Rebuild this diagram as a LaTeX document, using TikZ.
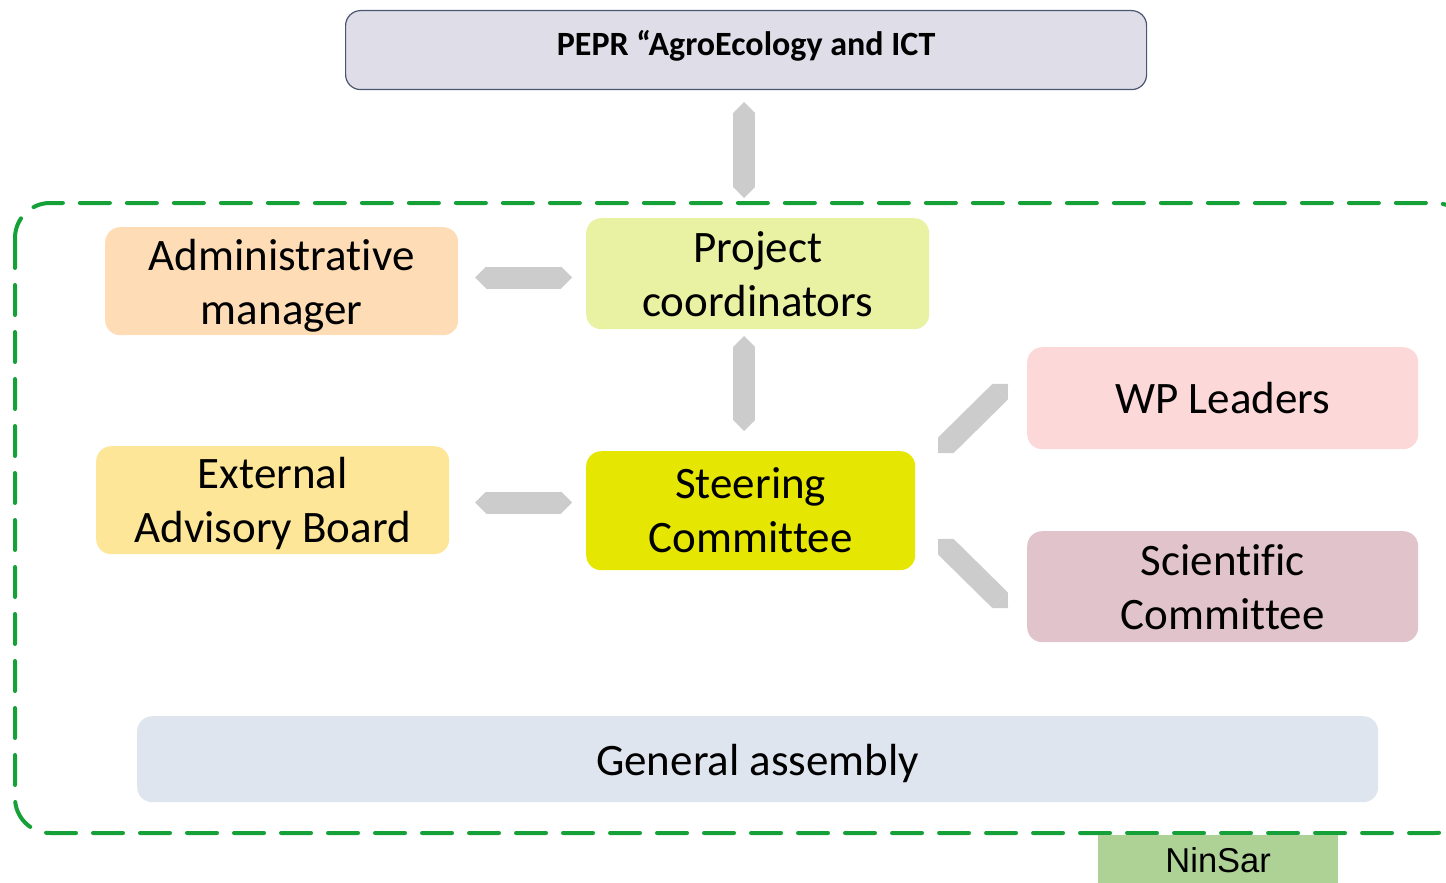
\documentclass[tikz,border=0pt]{standalone}
\usepackage{fontspec}
\setmainfont{Carlito}[Ligatures=NoCommon]
\newfontfamily\arialf{Liberation Sans}
\usetikzlibrary{arrows.meta}
\definecolor{topfill}{HTML}{DEDDE8}
\definecolor{topdraw}{HTML}{4A5570}
\definecolor{adminfill}{HTML}{FDDCB6}
\definecolor{projfill}{HTML}{E8F2A2}
\definecolor{wpfill}{HTML}{FDD8D9}
\definecolor{eabfill}{HTML}{FDE698}
\definecolor{steerfill}{HTML}{E5E702}
\definecolor{scifill}{HTML}{E0C3CB}
\definecolor{genfill}{HTML}{DFE5EF}
\definecolor{ninfill}{HTML}{AED196}
\definecolor{arrowgray}{HTML}{CCCCCC}
\definecolor{framegreen}{HTML}{16A038}
\newcommand{\shifttext}[2]{\raisebox{#1}[\height][\depth]{#2}}
\newcommand{\twolines}[3]{\shifttext{#1}{\begin{tabular}{@{}c@{}}#2\\#3\end{tabular}}}
\begin{document}
\begin{tikzpicture}[x=1pt,y=-1pt,
  box/.style={rounded corners=15pt, inner sep=0pt, align=center, anchor=north west,
    font=\fontsize{45}{54}\selectfont},
  blk/.style={draw=arrowgray, line width=22pt,
    {Triangle[width=22pt,length=11pt,line width=0pt]}-{Triangle[width=22pt,length=11pt,line width=0pt]}},
  frame/.style={draw=framegreen, line width=4pt, line cap=round, dash pattern=on 30pt off 17pt, rounded corners=35pt}]
\useasboundingbox (0,0) rectangle (1446,883);
\clip (0,0) rectangle (1446,883);
% frame
\draw[frame] (15,203) rectangle (1470,833);
% top box
\node[box, fill=topfill, draw=topdraw, line width=1.2pt, minimum width=801pt, minimum height=79pt,
  font=\bfseries\fontsize{34}{40}\selectfont] (pepr) at (345,10) {\shifttext{4pt}{PEPR “AgroEcology and ICT}};
% boxes
\node[box, fill=adminfill, minimum width=353pt, minimum height=107pt] (admin) at (105,227) {\twolines{-5pt}{Administrative}{manager}};
\node[box, fill=projfill, minimum width=343pt, minimum height=111pt] (proj) at (586,218) {\twolines{-5pt}{Project}{coordinators}};
\node[box, fill=wpfill, minimum width=391pt, minimum height=102pt] (wp) at (1027,347) {WP Leaders};
\node[box, fill=eabfill, minimum width=353pt, minimum height=107pt] (eab) at (96,446) {\twolines{-4pt}{External}{Advisory Board}};
\node[box, fill=steerfill, minimum width=329pt, minimum height=119pt] (steer) at (586,451) {\twolines{-4pt}{Steering}{Committee}};
\node[box, fill=scifill, minimum width=391pt, minimum height=111pt] (sci) at (1027,531) {\twolines{-5pt}{Scientific}{Committee}};
\node[box, fill=genfill, minimum width=1241pt, minimum height=86pt] (gen) at (137,716) {\shifttext{-4pt}{General assembly}};
\node[anchor=north west, inner sep=0pt, fill=ninfill, minimum width=240pt, minimum height=50pt,
  font=\arialf\fontsize{34.5}{40}\selectfont] (nin) at (1098,835) {NinSar};
% arrow end points
\coordinate (a1s) at (744,102); \coordinate (a1e) at (744,198);
\coordinate (a2s) at (475,277.5); \coordinate (a2e) at (572,277.5);
\coordinate (a3s) at (744,336); \coordinate (a3e) at (744,431);
\coordinate (a4s) at (475,502.5); \coordinate (a4e) at (572,502.5);
\coordinate (a5s) at (938,453); \coordinate (a5e) at (1008,384);
\coordinate (a6s) at (938,539); \coordinate (a6e) at (1008,608);
\draw[blk] (a1s) -- (a1e);
\draw[blk] (a2s) -- (a2e);
\draw[blk] (a3s) -- (a3e);
\draw[blk] (a4s) -- (a4e);
\draw[blk] (a5s) -- (a5e);
\draw[blk] (a6s) -- (a6e);
\end{tikzpicture}
\end{document}
